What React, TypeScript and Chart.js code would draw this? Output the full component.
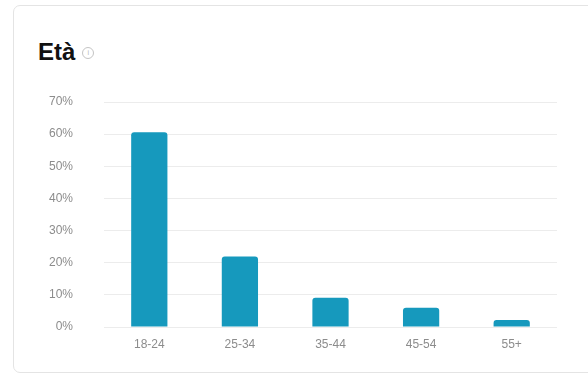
import React, { useEffect, useRef } from "react";
import { Chart, registerables } from "chart.js";

Chart.register(...registerables);

// Age groups and share of audience (%)
const categories = ["18-24", "25-34", "35-44", "45-54", "55+"];
const shares = [60.6, 21.9, 9.1, 6.0, 2.2];
const yTicks = [0, 10, 20, 30, 40, 50, 60, 70];

const BAR_COLOR = "#1699bd";
const FONT = "'Liberation Sans', Arial, Helvetica, sans-serif";

export default function App() {
  const canvasRef = useRef<HTMLCanvasElement | null>(null);

  useEffect(() => {
    const canvas = canvasRef.current;
    if (!canvas) return;
    const chart = new Chart(canvas, {
      type: "bar",
      data: {
        labels: categories,
        datasets: [
          {
            data: shares,
            backgroundColor: BAR_COLOR,
            borderRadius: { topLeft: 3, topRight: 3, bottomLeft: 0, bottomRight: 0 },
            borderSkipped: false,
            barPercentage: 0.4,
            categoryPercentage: 1,
          },
        ],
      },
      options: {
        responsive: false,
        animation: false,
        layout: { padding: { top: 102, right: 31, bottom: 0, left: 0 } },
        plugins: {
          legend: { display: false },
          tooltip: { enabled: false },
        },
        scales: {
          x: {
            grid: { display: false, drawTicks: false },
            border: { display: false },
            ticks: {
              padding: 10,
              color: "#8c8c8c",
              font: { family: FONT, size: 12 },
            },
            afterFit: (scale: any) => {
              scale.height = 47;
            },
          },
          y: {
            min: 0,
            max: 70,
            afterBuildTicks: (scale: any) => {
              scale.ticks = yTicks.map((v) => ({ value: v }));
            },
            grid: { color: "#ececec", lineWidth: 1, drawTicks: false },
            border: { display: false },
            ticks: {
              padding: 31,
              color: "#8c8c8c",
              font: { family: FONT, size: 12 },
              callback: (v: any) => `${v}%`,
            },
            afterFit: (scale: any) => {
              scale.width = 104;
            },
          },
        },
      },
    });
    return () => chart.destroy();
  }, []);

  return (
    <div
      style={{
        position: "fixed",
        left: 0,
        top: 0,
        width: 588,
        height: 374,
        background: "#ffffff",
        overflow: "hidden",
      }}
    >
      <div
        style={{
          position: "absolute",
          left: 13,
          top: 5,
          width: 600,
          height: 368,
          border: "1px solid #e4e4e4",
          borderRadius: 7,
          boxSizing: "border-box",
        }}
      />
      <div
        style={{
          position: "absolute",
          left: 38,
          top: 40,
          fontFamily: FONT,
          fontWeight: 700,
          fontSize: 24,
          lineHeight: "24px",
          color: "#111111",
          display: "flex",
          alignItems: "center",
        }}
      >
        <span>Età</span>
        <span
          style={{
            marginLeft: 7,
            width: 10,
            height: 10,
            borderRadius: "50%",
            border: "1px solid #c4c4c4",
            color: "#b5b5b5",
            fontSize: 7,
            lineHeight: "10px",
            textAlign: "center",
            fontWeight: 400,
            marginTop: 2,
          }}
        >
          i
        </span>
      </div>
      <canvas
        ref={canvasRef}
        width={588}
        height={374}
        style={{ position: "absolute", left: 0, top: 0, width: 588, height: 374 }}
      />
    </div>
  );
}
